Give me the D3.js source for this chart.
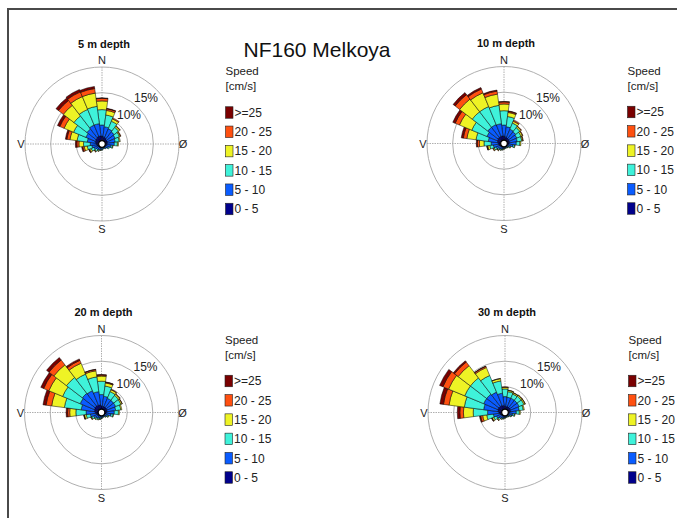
<!DOCTYPE html>
<html><head><meta charset="utf-8">
<script src="https://cdn.jsdelivr.net/npm/d3@7"></script>
<style>
body{margin:0;background:#fff;}
text{font-family:"Liberation Sans",Arial,sans-serif;}
</style></head>
<body><svg id="chart" width="677" height="518"></svg>
<script>
// Direction bins (degrees, clockwise from north), 15° wide
const directions = [0,15,30,45,60,75,90,105,120,135,150,165,180,195,210,225,240,255,270,285,300,315,330,345];
// Speed classes (low -> high)
const speedClasses = ["0 - 5","5 - 10","10 - 15","15 - 20","20 - 25",">=25"];
const speedColors = ["#00008c","#0a5cff","#3ff2da","#eef325","#ff5010","#7a0000"];
const compassLabels = ["N","Ø","S","V"];
const ringValues = [5,10,15];
const ringLabels = ["10%","15%"];
const chartTitle = "NF160 Melkoya";
const depthTitles = ["5 m depth","10 m depth","20 m depth","30 m depth"];

// Frequency (%) per direction, per speed class [0-5, 5-10, 10-15, 15-20, 20-25, >=25]
const depth5m = [
 [1.5,2.2,3.0,1.7,0.5,0.1],[1.4,2.0,2.3,0.9,0.3,0.1],[1.3,1.9,1.6,0.5,0.2,0.0],[1.2,1.8,1.1,0.3,0.1,0.0],
 [1.1,1.7,0.9,0.2,0.1,0.0],[1.1,1.5,0.8,0.2,0.0,0.0],[1.0,1.4,0.6,0.2,0.0,0.0],[0.9,0.9,0.3,0.1,0.0,0.0],
 [0.8,0.6,0.2,0.0,0.0,0.0],[0.7,0.4,0.1,0.0,0.0,0.0],[0.6,0.3,0.1,0.0,0.0,0.0],[0.6,0.3,0.1,0.0,0.0,0.0],
 [0.7,0.4,0.1,0.0,0.0,0.0],[0.7,0.4,0.15,0.05,0.0,0.0],[0.8,0.5,0.2,0.1,0.0,0.0],[0.8,0.6,0.4,0.15,0.05,0.0],
 [0.9,0.8,0.6,0.3,0.15,0.05],[1.0,1.0,0.9,0.6,0.3,0.2],[1.1,1.2,1.3,0.9,0.4,0.3],[1.3,1.6,2.0,1.4,0.6,0.3],
 [1.4,2.0,2.6,2.0,0.9,0.5],[1.5,2.2,3.2,2.6,1.2,0.6],[1.6,2.4,3.3,2.7,1.0,0.5],[1.6,2.4,3.4,2.6,0.9,0.4]
];
const depth10m = [
 [1.4,2.2,2.8,1.3,0.4,0.1],[1.3,2.0,2.0,0.8,0.2,0.1],[1.2,1.8,1.3,0.4,0.2,0.0],[1.2,1.7,1.0,0.3,0.1,0.0],
 [1.1,1.6,0.9,0.3,0.1,0.0],[1.1,1.5,0.9,0.2,0.1,0.0],[1.0,1.4,0.7,0.2,0.0,0.0],[0.9,0.9,0.3,0.1,0.0,0.0],
 [0.7,0.5,0.2,0.1,0.0,0.0],[0.6,0.35,0.1,0.05,0.0,0.0],[0.6,0.3,0.1,0.0,0.0,0.0],[0.6,0.3,0.1,0.0,0.0,0.0],
 [0.6,0.35,0.1,0.05,0.0,0.0],[0.7,0.4,0.15,0.05,0.0,0.0],[0.7,0.5,0.2,0.1,0.0,0.0],[0.8,0.6,0.25,0.1,0.05,0.0],
 [0.9,0.8,0.4,0.2,0.1,0.0],[1.0,1.1,0.7,0.4,0.15,0.05],[1.1,1.4,1.4,0.9,0.4,0.2],[1.3,1.8,2.4,1.8,0.7,0.4],
 [1.4,2.2,3.2,2.6,0.9,0.5],[1.5,2.5,3.8,3.1,1.1,0.5],[1.5,2.5,3.8,2.9,0.8,0.3],[1.5,2.4,3.6,2.2,0.6,0.2]
];
const depth20m = [
 [1.3,2.2,2.6,1.0,0.2,0.1],[1.2,2.0,2.0,0.6,0.15,0.05],[1.2,1.8,1.4,0.4,0.1,0.0],[1.2,1.8,1.2,0.3,0.1,0.0],
 [1.2,1.8,1.1,0.25,0.05,0.0],[1.1,1.7,1.0,0.2,0.0,0.0],[1.0,1.5,0.8,0.2,0.0,0.0],[0.9,1.0,0.4,0.1,0.0,0.0],
 [0.7,0.6,0.2,0.1,0.0,0.0],[0.6,0.4,0.15,0.05,0.0,0.0],[0.6,0.3,0.1,0.0,0.0,0.0],[0.6,0.3,0.1,0.0,0.0,0.0],
 [0.6,0.4,0.15,0.05,0.0,0.0],[0.7,0.45,0.2,0.05,0.0,0.0],[0.7,0.55,0.25,0.1,0.0,0.0],[0.8,0.6,0.3,0.1,0.0,0.0],
 [0.9,0.8,0.4,0.15,0.05,0.0],[1.0,1.2,0.8,0.35,0.1,0.05],[1.2,1.8,2.0,1.2,0.4,0.3],[1.4,2.6,3.3,2.5,1.1,0.6],
 [1.5,3.0,3.7,2.9,1.1,0.6],[1.6,3.1,3.9,3.1,1.2,0.6],[1.6,3.0,3.5,2.3,0.6,0.3],[1.5,2.6,2.9,1.2,0.25,0.05]
];
const depth30m = [
 [1.2,1.9,1.5,0.3,0.1,0.0],[1.2,1.8,1.1,0.25,0.05,0.0],[1.2,1.8,0.9,0.25,0.05,0.0],[1.2,1.8,1.0,0.25,0.05,0.0],
 [1.2,1.8,1.0,0.25,0.05,0.0],[1.1,1.7,0.8,0.2,0.0,0.0],[0.9,1.3,0.6,0.2,0.0,0.0],[0.8,0.8,0.3,0.1,0.0,0.0],
 [0.7,0.5,0.2,0.05,0.0,0.0],[0.6,0.35,0.1,0.05,0.0,0.0],[0.6,0.3,0.1,0.0,0.0,0.0],[0.6,0.3,0.1,0.0,0.0,0.0],
 [0.6,0.35,0.1,0.05,0.0,0.0],[0.7,0.4,0.15,0.05,0.0,0.0],[0.7,0.5,0.2,0.1,0.0,0.0],[0.8,0.7,0.3,0.15,0.05,0.0],
 [0.9,0.9,0.6,0.3,0.1,0.05],[1.0,1.3,1.3,0.8,0.4,0.2],[1.2,2.2,2.8,1.9,0.7,0.5],[1.4,2.8,3.8,3.0,1.1,0.7],
 [1.5,3.0,4.0,3.4,1.2,0.7],[1.5,3.0,4.0,3.0,0.9,0.3],[1.5,2.8,3.5,1.7,0.25,0.05],[1.4,2.4,2.4,0.45,0.05,0.0]
];
const depthData = [depth5m, depth10m, depth20m, depth30m];

const svg = d3.select("#chart");
const W = 677, H = 518;
svg.append("rect").attr("width",W).attr("height",H).attr("fill","#fff");
// frame
svg.append("path").attr("d",`M8,${H} L8,9 L${W},9`).attr("fill","none").attr("stroke","#4a4a4a").attr("stroke-width",2);

svg.append("text").attr("x",317).attr("y",57).attr("text-anchor","middle")
  .attr("font-size",21).attr("fill","#111").text(chartTitle);

const centers = [[102,144],[504,143.5],[101.5,412.5],[505,412.5]];
const R = 77;
const r = d3.scaleLinear().domain([0,15]).range([0,R]);
const toRad = d => d*Math.PI/180;
const binHalf = 7.5;

depthData.forEach((rows,pi)=>{
  const [cx,cy] = centers[pi];
  const g = svg.append("g").attr("transform",`translate(${cx},${cy})`);
  // grid rings
  g.selectAll("circle.ring").data(ringValues).join("circle").attr("class","ring")
    .attr("r",d=>r(d)).attr("fill","none").attr("stroke","#a6a6a6").attr("stroke-width",0.9);
  // cross lines
  g.append("line").attr("x1",-R).attr("x2",R).attr("y1",0).attr("y2",0)
    .attr("stroke","#a6a6a6").attr("stroke-width",0.9).attr("stroke-dasharray","1.5,1");
  g.append("line").attr("y1",-R).attr("y2",R).attr("x1",0).attr("x2",0)
    .attr("stroke","#a6a6a6").attr("stroke-width",0.9).attr("stroke-dasharray","1.5,1");
  // wedges
  const segs = [];
  rows.forEach((vals,di)=>{
    let cum = 0;
    vals.forEach((v,ci)=>{
      if(v>0){ segs.push({dir:directions[di], inner:cum, outer:cum+v, ci}); }
      cum += v;
    });
  });
  const arc = d3.arc();
  g.selectAll("path.seg").data(segs).join("path").attr("class","seg")
    .attr("d",d=>arc({innerRadius:r(d.inner),outerRadius:r(d.outer),
      startAngle:toRad(d.dir-binHalf),endAngle:toRad(d.dir+binHalf)}))
    .attr("fill",d=>speedColors[d.ci]).attr("stroke","#000").attr("stroke-width",0.5);
  // center hole
  g.append("circle").attr("r",3.3).attr("fill","#fff").attr("stroke","#000").attr("stroke-width",1.2);
  // ring labels
  g.append("text").attr("x",15).attr("y",-25).attr("font-size",12).attr("fill","#222").text(ringLabels[0]);
  g.append("text").attr("x",32).attr("y",-42).attr("font-size",12).attr("fill","#222").text(ringLabels[1]);
  // compass labels
  const cl = [[0,-80,"middle"],[81,4,"middle"],[0,89,"middle"],[-81,4,"middle"]];
  compassLabels.forEach((t,i)=>{
    g.append("text").attr("x",cl[i][0]).attr("y",cl[i][1]).attr("text-anchor",cl[i][2])
      .attr("font-size",11).attr("fill","#222").text(t);
  });
  // subplot title
  g.append("text").attr("x",2).attr("y",-96.5).attr("text-anchor","middle")
    .attr("font-size",11).attr("font-weight","bold").attr("fill","#111").text(depthTitles[pi]);
  // legend
  const lx = 123.5;
  g.append("text").attr("x",lx).attr("y",-69).attr("font-size",11.5).attr("fill","#222").text("Speed");
  g.append("text").attr("x",lx).attr("y",-54).attr("font-size",11.5).attr("fill","#222").text("[cm/s]");
  const legendOrder = d3.range(speedClasses.length).reverse();
  legendOrder.forEach((ci,k)=>{
    const yc = -31.5 + k*19.3;
    g.append("rect").attr("x",lx).attr("y",yc-5.75).attr("width",7.5).attr("height",11.5)
      .attr("fill",speedColors[ci]).attr("stroke","#222").attr("stroke-width",0.6);
    g.append("text").attr("x",lx+9).attr("y",yc+4.3).attr("font-size",12).attr("fill","#222").text(speedClasses[ci]);
  });
});
</script></body></html>
